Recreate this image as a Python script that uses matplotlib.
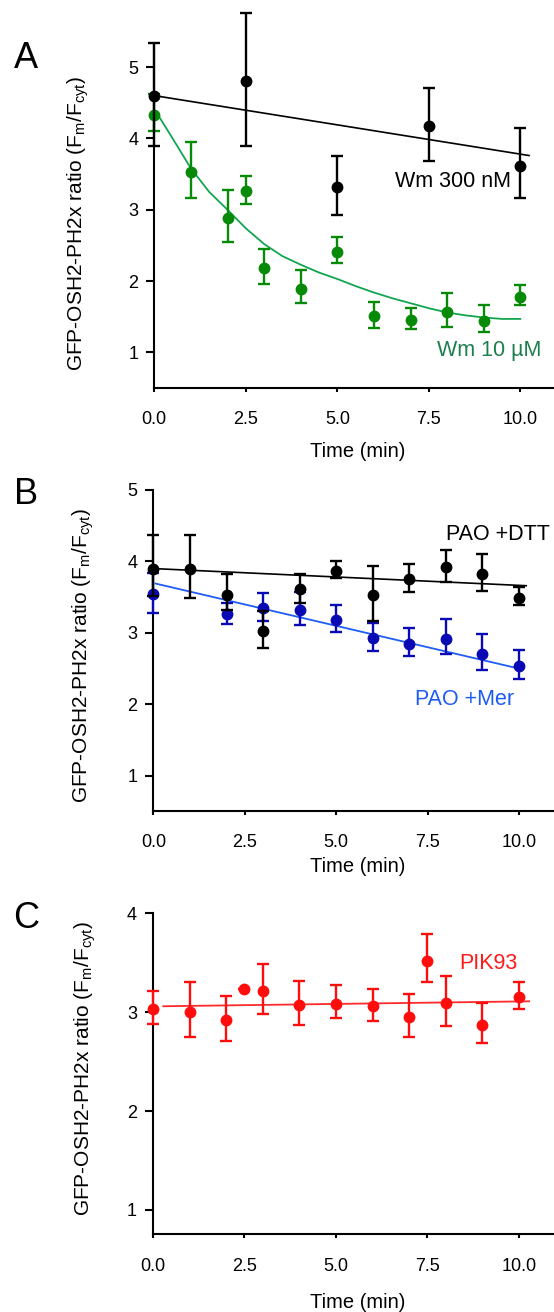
import numpy as np
import matplotlib
matplotlib.use('Agg')
import matplotlib.pyplot as plt

plt.rcParams['font.family'] = ['Liberation Sans', 'DejaVu Sans']
plt.rcParams['mathtext.fontset'] = 'custom'
plt.rcParams['mathtext.rm'] = 'Liberation Sans'
plt.rcParams['mathtext.it'] = 'Liberation Sans:italic'

# ---- panel A : wortmannin ----
wm300_t = [0, 2.5, 5, 7.5, 10]
wm300_y = [4.60, 4.80, 3.32, 4.18, 3.62]
wm300_lo = [3.90, 3.89, 2.93, 3.69, 3.16]
wm300_hi = [5.34, 5.76, 3.75, 4.71, 4.15]
wm300_fit_t = [0, 10.24]
wm300_fit_y = [4.60, 3.76]

wm10_t = [0, 1, 2, 2.5, 3, 4, 5, 6, 7, 8, 9, 10]
wm10_y = [4.33, 3.53, 2.88, 3.26, 2.18, 1.89, 2.41, 1.51, 1.46, 1.57, 1.44, 1.78]
wm10_lo = [4.10, 3.17, 2.55, 3.08, 1.96, 1.69, 2.25, 1.34, 1.33, 1.36, 1.28, 1.66]
wm10_hi = [4.62, 3.95, 3.28, 3.48, 2.45, 2.16, 2.62, 1.71, 1.63, 1.83, 1.67, 1.94]
wm10_fit_t = [0.1, 0.5, 1.0, 1.5, 2.0, 2.5, 3.0, 3.5, 4.0, 4.5, 5.0, 5.5, 6.0,
              6.5, 7.0, 7.5, 8.0, 8.5, 9.0, 9.5, 10.0]
wm10_fit_y = [4.33, 4.00, 3.58, 3.25, 3.00, 2.74, 2.52, 2.35, 2.23, 2.12, 2.03,
              1.93, 1.84, 1.76, 1.69, 1.62, 1.56, 1.52, 1.49, 1.47, 1.47]

# ---- panel B : PAO ----
dtt_t = [0, 1, 2, 3, 4, 5, 6, 7, 8, 9, 10]
dtt_y = [3.90, 3.90, 3.53, 3.03, 3.61, 3.86, 3.53, 3.75, 3.92, 3.83, 3.49]
dtt_lo = [3.51, 3.49, 3.32, 2.79, 3.42, 3.77, 3.17, 3.57, 3.71, 3.59, 3.39]
dtt_hi = [4.37, 4.37, 3.82, 3.30, 3.83, 4.01, 3.94, 3.96, 4.16, 4.11, 3.64]
dtt_fit_t = [0, 10.2]
dtt_fit_y = [3.90, 3.66]

mer_t = [0, 2, 3, 4, 5, 6, 7, 8, 9, 10]
mer_y = [3.54, 3.26, 3.35, 3.32, 3.18, 2.93, 2.85, 2.92, 2.71, 2.54]
mer_lo = [3.28, 3.13, 3.17, 3.11, 3.01, 2.74, 2.67, 2.71, 2.48, 2.36]
mer_hi = [3.84, 3.42, 3.56, 3.57, 3.39, 3.14, 3.07, 3.20, 2.98, 2.76]
mer_fit_t = [0.06, 10.0]
mer_fit_y = [3.69, 2.50]

# ---- panel C : PIK93 ----
pik_t = [0, 1, 2, 2.5, 3, 4, 5, 6, 7, 7.5, 8, 9, 10]
pik_y = [3.03, 3.00, 2.92, 3.23, 3.21, 3.07, 3.08, 3.06, 2.95, 3.52, 3.09, 2.87, 3.15]
pik_lo = [2.88, 2.75, 2.71, 3.23, 2.98, 2.87, 2.94, 2.91, 2.75, 3.31, 2.86, 2.69, 3.03]
pik_hi = [3.21, 3.31, 3.16, 3.23, 3.49, 3.32, 3.27, 3.23, 3.18, 3.79, 3.37, 3.09, 3.31]
pik_fit_t = [0.28, 10.28]
pik_fit_y = [3.06, 3.11]

xticks = [0, 2.5, 5, 7.5, 10]
xticklabels = ['0.0', '2.5', '5.0', '7.5', '10.0']
ylabel = 'GFP-OSH2-PH2x ratio (F$_\\mathrm{m}$/F$_\\mathrm{cyt}$)'

W, H = 554, 1312
fig = plt.figure(figsize=(W / 100, H / 100), dpi=100)


def px_axes(left, right, top, bottom):
    return fig.add_axes([left / W, 1 - bottom / H, (right - left) / W, (bottom - top) / H])


def series(ax, t, y, lo, hi, mcol, z):
    y = np.array(y)
    err = [y - np.array(lo), np.array(hi) - y]
    ax.errorbar(t, y, yerr=err, fmt='o', color=mcol, ms=7.5, elinewidth=1.7,
                capsize=4.2, capthick=1.7, clip_on=False, zorder=z)


def style(ax, yticks, xlab_y, ylab_x, ylab_y, letter, letter_xy):
    for s in ['top', 'right']:
        ax.spines[s].set_visible(False)
    for s in ['left', 'bottom']:
        ax.spines[s].set_linewidth(1.5)
    ax.set_xticks(xticks)
    ax.set_xticklabels(xticklabels)
    ax.set_yticks(yticks)
    ax.set_yticklabels([str(v) for v in yticks])
    ax.tick_params(axis='y', direction='out', length=5.5, width=1.5, pad=6, labelsize=13)
    ax.tick_params(axis='x', direction='out', length=3, width=1.5, pad=14, labelsize=13)
    ax.set_xlabel('Time (min)', fontsize=14.5)
    ax.xaxis.set_label_coords(0.51, xlab_y)
    ax.xaxis.label.set_va('center')
    ax.set_ylabel(ylabel, fontsize=15)
    ax.yaxis.set_label_coords(ylab_x, ylab_y)
    ax.yaxis.label.set_va('center')
    fig.text(letter_xy[0] / W, 1 - letter_xy[1] / H, letter, fontsize=26,
             ha='center', va='center')


# panel A
axA = px_axes(154.3, 554, 42.8, 387.7)
axA.plot(wm10_fit_t, wm10_fit_y, color='#12a550', lw=1.3, zorder=2)
series(axA, wm10_t, wm10_y, wm10_lo, wm10_hi, '#078a07', 3)
axA.plot(wm300_fit_t, wm300_fit_y, color='black', lw=1.2, zorder=4, clip_on=False)
series(axA, wm300_t, wm300_y, wm300_lo, wm300_hi, 'black', 5)
axA.set_xlim(0, 10.92)
axA.set_ylim(0.506, 5.34)
axA.text(9.75, 3.39, 'Wm 300 nM', ha='right', va='center', fontsize=15.5, color='black')
axA.text(10.57, 1.03, 'Wm 10 µM', ha='right', va='center', fontsize=15.5, color='#1e7f4e')
style(axA, [1, 2, 3, 4, 5], -0.186, -0.191, 0.475, 'A', (25.5, 59))

# panel B
axB = px_axes(153.4, 554, 490, 810.7)
axB.plot(mer_fit_t, mer_fit_y, color='#1f5cf5', lw=1.3, zorder=2)
series(axB, mer_t, mer_y, mer_lo, mer_hi, '#0a0ab4', 3)
axB.plot(dtt_fit_t, dtt_fit_y, color='black', lw=1.2, zorder=4)
series(axB, dtt_t, dtt_y, dtt_lo, dtt_hi, 'black', 5)
axB.set_xlim(0, 10.96)
axB.set_ylim(0.51, 5)
axB.text(10.85, 4.38, 'PAO +DTT', ha='right', va='center', fontsize=15.5, color='black')
axB.text(9.86, 2.07, 'PAO +Mer', ha='right', va='center', fontsize=15.5, color='#1f5cf5')
style(axB, [1, 2, 3, 4, 5], -0.175, -0.175, 0.483, 'B', (26, 495))

# panel C
axC = px_axes(153, 554, 913.3, 1234)
axC.plot(pik_fit_t, pik_fit_y, color='#ff2a2a', lw=1.3, zorder=2, clip_on=False)
series(axC, pik_t, pik_y, pik_lo, pik_hi, '#ff0d0d', 3)
axC.set_xlim(0, 10.96)
axC.set_ylim(0.757, 4)
axC.text(9.95, 3.49, 'PIK93', ha='right', va='center', fontsize=15.5, color='#ff1a1a')
style(axC, [1, 2, 3, 4], -0.215, -0.17, 0.517, 'C', (26, 918))

fig.savefig('out.png', dpi=100)
